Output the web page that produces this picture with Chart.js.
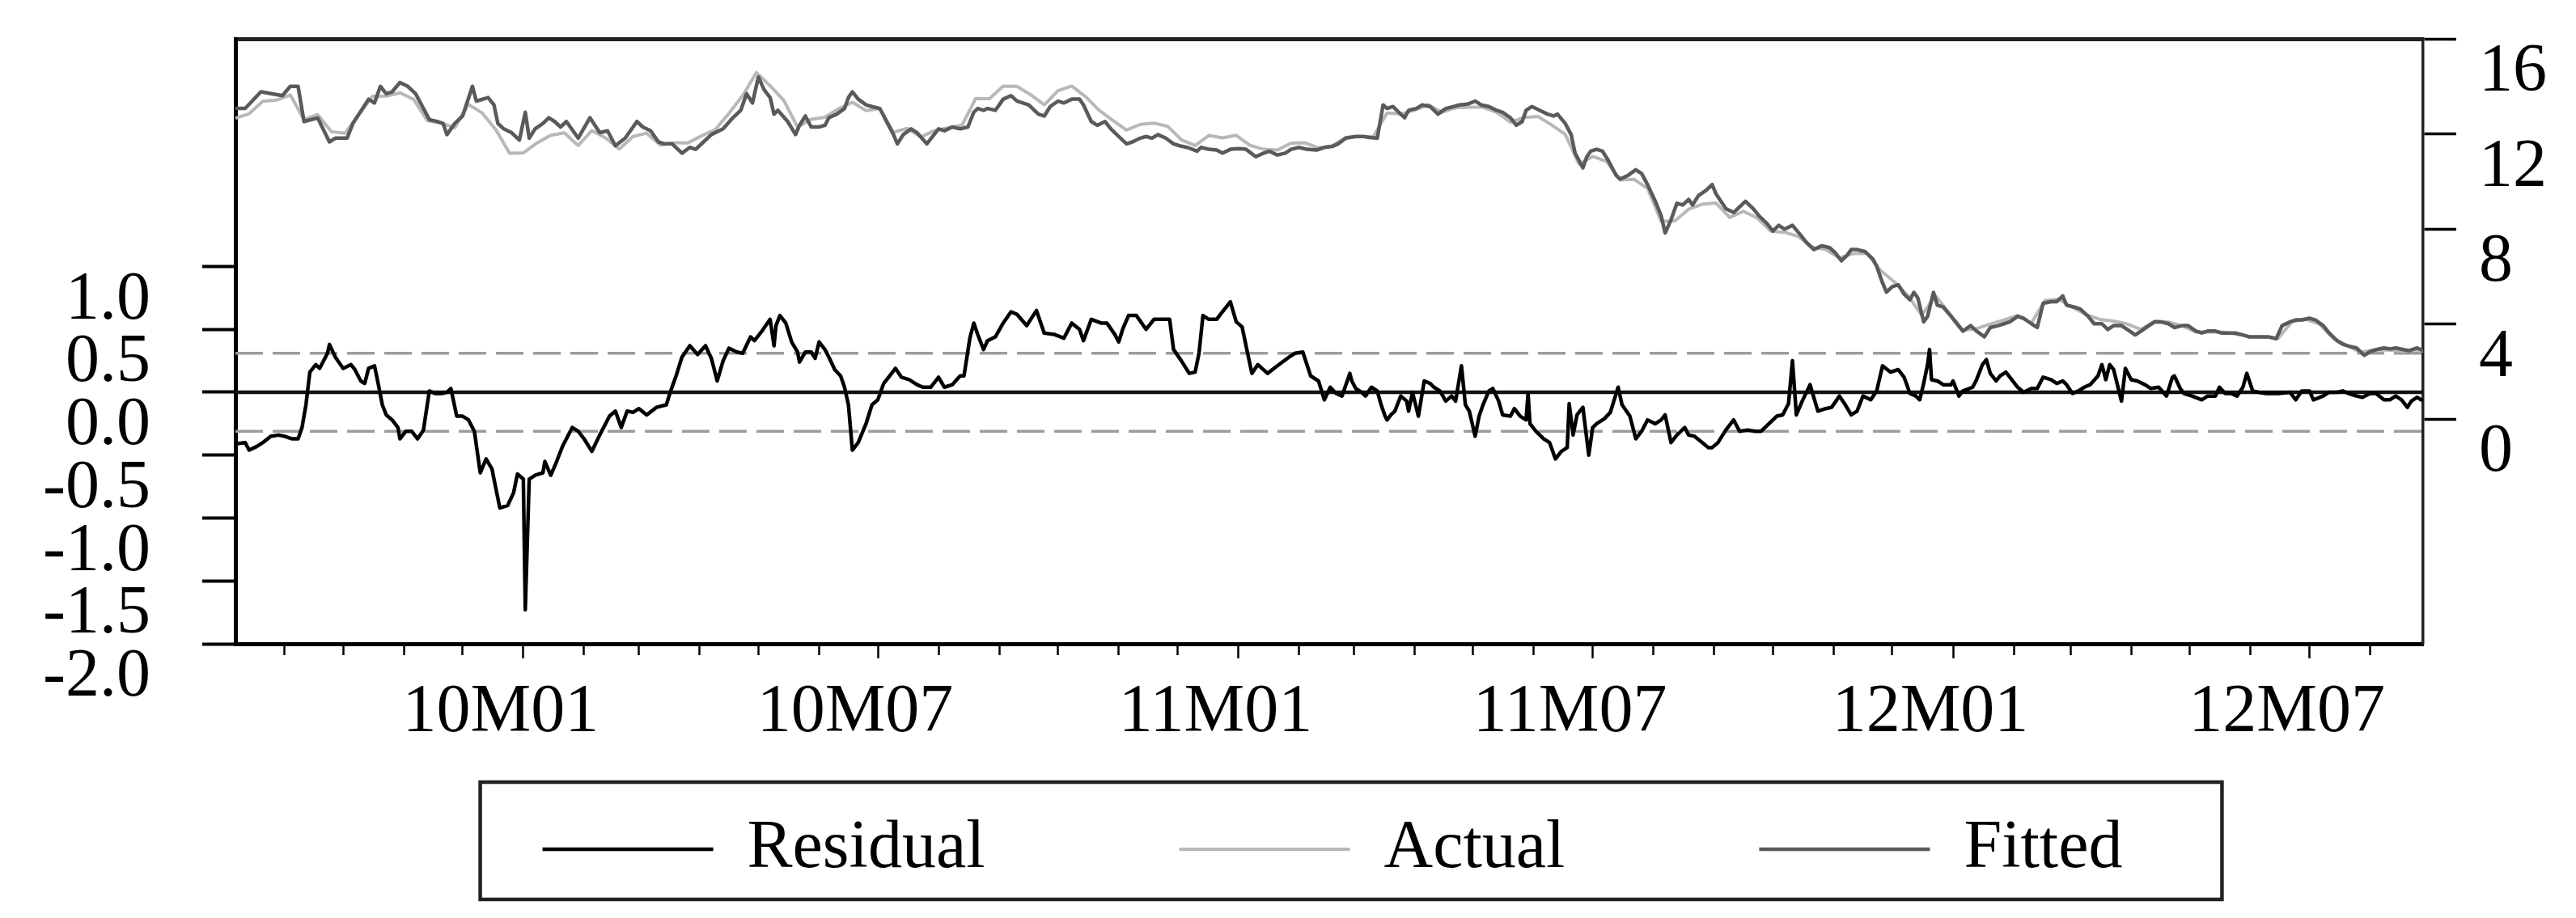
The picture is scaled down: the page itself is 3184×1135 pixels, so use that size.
<!DOCTYPE html>
<html>
<head>
<meta charset="utf-8">
<script src="https://cdn.jsdelivr.net/npm/chart.js@4.4.1/dist/chart.umd.min.js"></script>
<style>
  html, body { margin: 0; padding: 0; background: #fff; }
  canvas { display: block; }
</style>
</head>
<body>
<canvas id="myChart" width="3184" height="1135"></canvas>
<script>
// days are counted from dayZero; residual and fitted as [day, value]
const dayZero = '2010-01-01'
const axisFrom = '2009-08-07'
const axisTo = '2012-08-28'

const residualPoints = [
  [-147, -0.41], [-142, -0.40], [-140, -0.46], [-136, -0.43], [-133, -0.40], [-129, -0.35], [-125, -0.34], [-122, -0.35],
  [-118, -0.37], [-115, -0.37], [-113, -0.28], [-111, -0.10], [-109, 0.16], [-106, 0.22], [-104, 0.19], [-100, 0.31],
  [-99, 0.38], [-96, 0.28], [-92, 0.19], [-88, 0.22], [-86, 0.18], [-83, 0.09], [-81, 0.07], [-79, 0.19],
  [-76, 0.21], [-74, 0.06], [-72, -0.10], [-70, -0.18], [-67, -0.22], [-64, -0.28], [-63, -0.37], [-60, -0.31],
  [-57, -0.31], [-54, -0.37], [-51, -0.30], [-48, 0.01], [-45, -0.01], [-42, -0.01], [-39, 0.00], [-37, 0.03],
  [-34, -0.19], [-31, -0.19], [-28, -0.22], [-25, -0.31], [-22, -0.64], [-19, -0.53], [-16, -0.61], [-15, -0.69],
  [-12, -0.92], [-8, -0.90], [-5, -0.80], [-3, -0.65], [0, -0.69], [1, -1.73], [3, -0.69], [6, -0.66],
  [10, -0.64], [11, -0.55], [14, -0.66], [17, -0.55], [20, -0.43], [22, -0.37], [25, -0.28], [28, -0.31],
  [31, -0.37], [35, -0.47], [39, -0.34], [44, -0.19], [47, -0.15], [50, -0.28], [53, -0.15], [56, -0.16],
  [59, -0.13], [63, -0.18], [68, -0.12], [73, -0.10], [75, 0.00], [78, 0.13], [81, 0.28], [85, 0.37],
  [89, 0.30], [93, 0.37], [96, 0.27], [99, 0.09], [102, 0.25], [105, 0.35], [109, 0.32], [112, 0.31],
  [116, 0.44], [118, 0.41], [122, 0.49], [126, 0.58], [128, 0.37], [129, 0.53], [131, 0.61], [134, 0.55],
  [137, 0.40], [140, 0.32], [141, 0.24], [144, 0.32], [147, 0.32], [149, 0.27], [151, 0.40], [154, 0.34],
  [156, 0.28], [159, 0.18], [162, 0.13], [164, 0.04], [166, -0.10], [168, -0.46], [171, -0.40], [175, -0.25],
  [178, -0.10], [181, -0.06], [184, 0.07], [187, 0.13], [190, 0.19], [193, 0.12], [197, 0.10], [201, 0.06],
  [204, 0.04], [208, 0.04], [212, 0.12], [215, 0.04], [219, 0.06], [223, 0.13], [225, 0.13], [228, 0.43],
  [230, 0.55], [232, 0.46], [235, 0.34], [237, 0.41], [241, 0.44], [245, 0.55], [249, 0.64], [252, 0.62],
  [257, 0.53], [262, 0.65], [266, 0.47], [271, 0.46], [276, 0.43], [280, 0.55], [284, 0.50], [286, 0.41],
  [290, 0.58], [295, 0.55], [298, 0.55], [302, 0.46], [304, 0.40], [306, 0.50], [309, 0.61], [313, 0.61],
  [318, 0.50], [322, 0.58], [326, 0.58], [330, 0.58], [332, 0.34], [336, 0.25], [340, 0.15], [343, 0.16],
  [345, 0.31], [347, 0.61], [350, 0.58], [354, 0.58], [357, 0.64], [361, 0.72], [364, 0.56], [367, 0.52],
  [369, 0.37], [372, 0.15], [375, 0.22], [380, 0.15], [385, 0.21], [391, 0.28], [394, 0.31], [398, 0.32],
  [402, 0.13], [406, 0.09], [409, -0.06], [412, 0.04], [415, -0.01], [418, -0.03], [422, 0.15], [423, 0.09],
  [425, 0.03], [428, 0.00], [430, -0.03], [433, 0.04], [436, 0.01], [438, -0.10], [440, -0.19], [441, -0.22],
  [443, -0.18], [445, -0.15], [448, -0.03], [451, -0.07], [452, -0.15], [454, 0.00], [457, -0.19], [460, 0.09],
  [463, 0.07], [465, 0.04], [468, 0.01], [471, -0.07], [474, -0.03], [476, -0.07], [479, 0.21], [481, -0.10],
  [483, -0.15], [486, -0.35], [488, -0.19], [490, -0.10], [493, 0.01], [495, 0.03], [498, -0.07], [500, -0.18],
  [504, -0.19], [506, -0.13], [509, -0.19], [512, -0.22], [513, -0.01], [514, -0.25], [517, -0.31], [521, -0.37],
  [524, -0.40], [527, -0.53], [530, -0.47], [533, -0.44], [534, -0.09], [536, -0.34], [538, -0.18], [541, -0.12],
  [544, -0.50], [546, -0.28], [548, -0.25], [552, -0.21], [555, -0.16], [559, 0.04], [561, -0.10], [565, -0.19],
  [568, -0.37], [571, -0.31], [574, -0.22], [578, -0.25], [581, -0.22], [583, -0.18], [586, -0.40], [589, -0.34],
  [593, -0.28], [595, -0.34], [598, -0.35], [602, -0.40], [605, -0.44], [607, -0.44], [610, -0.40], [614, -0.30],
  [618, -0.22], [621, -0.31], [625, -0.30], [629, -0.31], [632, -0.31], [636, -0.25], [640, -0.19], [643, -0.18],
  [646, -0.09], [648, 0.25], [650, -0.18], [653, -0.07], [657, 0.06], [661, -0.15], [665, -0.13], [668, -0.12],
  [672, -0.03], [675, -0.10], [678, -0.18], [681, -0.15], [684, -0.03], [688, -0.06], [691, 0.01], [694, 0.21],
  [698, 0.16], [702, 0.18], [705, 0.12], [708, -0.01], [711, -0.03], [713, -0.06], [715, 0.07], [717, 0.22],
  [718, 0.34], [719, 0.10], [722, 0.09], [725, 0.06], [729, 0.06], [730, 0.09], [733, -0.03], [735, 0.01],
  [740, 0.04], [742, 0.10], [745, 0.22], [747, 0.26], [749, 0.15], [752, 0.09], [754, 0.13], [757, 0.16],
  [759, 0.12], [763, 0.04], [766, 0.00], [770, 0.03], [773, 0.03], [776, 0.12], [780, 0.10], [783, 0.07],
  [786, 0.09], [788, 0.06], [791, -0.01], [794, 0.01], [797, 0.04], [800, 0.06], [804, 0.13], [806, 0.22],
  [808, 0.10], [810, 0.22], [812, 0.18], [816, -0.07], [818, 0.19], [821, 0.10], [824, 0.09], [828, 0.06],
  [831, 0.03], [835, 0.04], [839, -0.03], [842, 0.12], [843, 0.13], [846, 0.03], [848, -0.01], [852, -0.03],
  [857, -0.06], [860, -0.03], [864, -0.03], [866, 0.04], [869, -0.01], [872, -0.01], [875, -0.03], [878, 0.04],
  [880, 0.15], [883, 0.01], [886, 0.00], [890, -0.01], [893, -0.01], [896, -0.01], [902, 0.00], [905, -0.06],
  [908, 0.01], [912, 0.01], [914, -0.06], [919, -0.03], [922, 0.00], [926, 0.00], [929, 0.01], [932, -0.01],
  [936, -0.03], [939, -0.04], [943, -0.01], [946, -0.01], [950, -0.06], [953, -0.06], [956, -0.03], [959, -0.06],
  [962, -0.12], [964, -0.07], [967, -0.04], [969, -0.06], [973, -0.06]
]

const fittedPoints = [
  [-149, 13.07], [-142, 13.07], [-134, 13.77], [-123, 13.61], [-119, 14.00], [-115, 14.00], [-112, 12.52], [-105, 12.67],
  [-99, 11.66], [-96, 11.82], [-90, 11.82], [-87, 12.44], [-79, 13.46], [-76, 13.30], [-73, 14.00], [-70, 13.69],
  [-67, 13.77], [-63, 14.16], [-59, 14.00], [-55, 13.69], [-51, 13.07], [-48, 12.60], [-44, 12.52], [-41, 12.44],
  [-39, 11.97], [-35, 12.44], [-31, 12.75], [-26, 14.00], [-24, 13.38], [-18, 13.53], [-15, 13.22], [-13, 12.44],
  [-10, 12.21], [-6, 12.05], [-2, 11.74], [1, 12.91], [3, 11.82], [6, 12.21], [10, 12.44], [13, 12.68],
  [16, 12.52], [19, 12.29], [22, 12.52], [28, 11.82], [34, 12.68], [39, 12.05], [43, 12.13], [47, 11.50],
  [52, 11.82], [58, 12.52], [61, 12.29], [65, 12.13], [69, 11.66], [72, 11.58], [76, 11.58], [81, 11.19],
  [85, 11.43], [88, 11.35], [92, 11.66], [96, 11.97], [102, 12.21], [107, 12.68], [111, 12.99], [114, 13.69],
  [117, 13.30], [120, 14.39], [123, 13.85], [126, 13.53], [128, 12.83], [130, 12.99], [135, 12.52], [139, 11.97],
  [141, 12.36], [144, 12.75], [147, 12.29], [151, 12.29], [154, 12.36], [156, 12.68], [160, 12.83], [164, 13.07],
  [166, 13.53], [168, 13.77], [171, 13.46], [175, 13.22], [178, 13.15], [182, 13.07], [186, 12.44], [189, 11.97],
  [191, 11.58], [194, 11.97], [198, 12.21], [201, 12.05], [206, 11.58], [212, 12.21], [215, 12.13], [219, 12.29],
  [223, 12.21], [227, 12.29], [230, 12.91], [232, 13.07], [235, 12.99], [237, 13.07], [241, 12.99], [245, 13.46],
  [249, 13.61], [252, 13.38], [258, 13.22], [263, 12.83], [266, 12.75], [269, 13.15], [273, 13.38], [276, 13.30],
  [280, 13.46], [284, 13.46], [286, 13.22], [290, 12.52], [293, 12.36], [297, 12.52], [300, 12.21], [304, 11.89],
  [308, 11.58], [311, 11.66], [315, 11.82], [318, 11.89], [321, 11.82], [324, 11.97], [328, 11.82], [332, 11.58],
  [335, 11.50], [339, 11.43], [344, 11.27], [346, 11.43], [350, 11.35], [354, 11.32], [357, 11.19], [361, 11.35],
  [365, 11.38], [369, 11.35], [374, 11.04], [378, 11.19], [381, 11.27], [385, 11.11], [389, 11.19], [392, 11.35],
  [396, 11.43], [400, 11.35], [405, 11.32], [409, 11.43], [413, 11.47], [416, 11.58], [420, 11.82], [425, 11.89],
  [429, 11.89], [432, 11.85], [436, 11.82], [439, 13.22], [441, 13.07], [444, 13.15], [447, 12.91], [450, 12.68],
  [452, 12.99], [456, 13.07], [459, 13.22], [463, 13.15], [467, 12.83], [471, 13.07], [475, 13.15], [478, 13.22],
  [482, 13.25], [486, 13.38], [489, 13.22], [493, 13.15], [497, 12.99], [500, 12.91], [504, 12.68], [507, 12.36],
  [510, 12.52], [512, 12.99], [515, 13.15], [519, 12.99], [523, 12.83], [526, 12.75], [528, 12.83], [532, 12.44],
  [535, 11.97], [537, 11.19], [541, 10.57], [543, 11.04], [545, 11.27], [548, 11.35], [551, 11.27], [554, 10.88],
  [558, 10.25], [560, 10.10], [564, 10.25], [568, 10.49], [571, 10.33], [574, 9.87], [578, 9.16], [581, 8.54],
  [583, 7.83], [586, 8.38], [589, 9.08], [592, 9.01], [595, 9.24], [597, 9.01], [600, 9.40], [604, 9.63],
  [607, 9.87], [609, 9.47], [614, 8.85], [618, 8.69], [620, 8.85], [624, 9.16], [628, 8.85], [631, 8.54],
  [635, 8.23], [638, 7.91], [641, 8.15], [644, 7.99], [648, 8.15], [652, 7.76], [655, 7.44], [659, 7.13],
  [663, 7.29], [667, 7.21], [670, 6.98], [673, 6.66], [676, 6.90], [678, 7.13], [681, 7.13], [685, 7.05],
  [689, 6.74], [691, 6.43], [694, 5.73], [696, 5.34], [699, 5.57], [702, 5.65], [705, 5.26], [708, 5.02],
  [710, 5.33], [712, 5.10], [715, 4.09], [717, 4.32], [720, 5.33], [722, 4.79], [725, 4.71], [729, 4.32],
  [732, 4.01], [735, 3.70], [739, 3.93], [742, 3.70], [746, 3.46], [749, 3.85], [753, 3.93], [756, 4.01],
  [759, 4.09], [763, 4.32], [766, 4.24], [770, 4.01], [773, 3.85], [776, 4.87], [780, 4.94], [783, 4.94],
  [786, 5.18], [788, 4.79], [792, 4.71], [795, 4.63], [799, 4.32], [802, 4.01], [806, 4.01], [809, 3.77],
  [812, 3.93], [816, 3.93], [819, 3.77], [823, 3.54], [826, 3.70], [830, 3.93], [833, 4.09], [836, 4.09],
  [840, 4.01], [843, 3.85], [847, 3.93], [850, 3.93], [854, 3.70], [857, 3.62], [860, 3.70], [864, 3.70],
  [867, 3.62], [871, 3.62], [874, 3.62], [878, 3.54], [881, 3.46], [884, 3.46], [888, 3.46], [891, 3.46],
  [895, 3.38], [898, 3.93], [902, 4.09], [905, 4.17], [908, 4.17], [912, 4.24], [915, 4.17], [919, 3.93],
  [922, 3.62], [926, 3.30], [929, 3.15], [932, 3.07], [936, 2.99], [940, 2.68], [943, 2.84], [946, 2.92],
  [950, 2.99], [953, 2.95], [956, 2.99], [960, 2.92], [963, 2.88], [967, 2.99], [970, 2.88], [973, 2.88]
]

// actual: one value a week, first one on day actualFrom
const actualFrom = -147
const actual = [
  12.66, 12.85, 13.37, 13.42, 13.64, 12.60, 12.81, 12.09, 12.03, 12.81,
  13.58, 13.59, 13.73, 13.45, 12.55, 12.46, 12.26, 13.24, 12.88, 12.17,
  11.18, 11.20, 11.62, 11.94, 12.04, 11.51, 12.14, 11.83, 11.36, 11.89,
  12.03, 11.52, 11.63, 11.62, 11.92, 12.18, 12.87, 13.61, 14.58, 14.02,
  13.41, 12.29, 12.61, 12.70, 13.06, 13.33, 12.98, 13.06, 12.07, 12.23,
  11.87, 12.14, 12.26, 12.37, 13.49, 13.48, 14.01, 14.00, 13.65, 13.22,
  13.82, 14.01, 13.57, 12.99, 12.57, 12.16, 12.40, 12.45, 12.32, 11.75,
  11.51, 11.93, 11.83, 11.94, 11.52, 11.35, 11.32, 11.61, 11.63, 11.41,
  11.49, 11.86, 11.88, 11.89, 12.88, 12.84, 12.99, 13.23, 12.91, 13.10,
  13.12, 13.12, 12.91, 12.49, 12.69, 12.73, 12.38, 11.98, 10.73, 11.05,
  10.85, 10.06, 10.09, 9.71, 8.32, 8.34, 8.83, 9.04, 9.09, 8.48,
  8.74, 8.46, 7.91, 7.86, 7.68, 7.24, 7.13, 6.78, 6.96, 6.97,
  6.25, 5.77, 5.20, 4.36, 5.19, 4.46, 3.74, 3.80, 4.00, 4.17,
  4.36, 4.04, 4.99, 5.04, 4.70, 4.39, 4.19, 4.12, 4.00, 3.77,
  4.12, 4.08, 3.92, 3.66, 3.66, 3.65, 3.57, 3.47, 3.45, 3.40,
  4.09, 4.20, 4.00, 3.41, 3.10, 2.80, 2.91, 2.90, 2.86, 2.91,
  2.82
]

const residTicks = [-2.0, -1.5, -1.0, -0.5, 0.0, 0.5, 1.0]
const levelTicks = [0, 4, 8, 12, 16]
const bandLevel = 0.31

const fontSize = 84
Chart.defaults.font.family = "'Liberation Serif', 'Times New Roman', serif"
Chart.defaults.font.size = fontSize
Chart.defaults.color = '#000'

const toDay = (s) => {
    const [y, m, d] = s.split('-').map(Number)
    return Date.UTC(y, m - 1, d) / 864e5
}

const base = toDay(dayZero)
const xMin = toDay(axisFrom)
const xMax = toDay(axisTo)

const fromPairs = (pairs) => pairs.map(p => ({ x: base + p[0], y: p[1] }))
const fromWeekly = (vals, first) => vals.map((v, i) => ({ x: base + first + 7 * i, y: v }))

// month ticks, labels only on January and July
let monthTicks = []
for (let y = 2009; y <= 2012; y++) {
    for (let m = 0; m < 12; m++) {
        const d = Date.UTC(y, m, 1) / 864e5
        if (d <= xMin || d >= xMax) continue
        const major = (m === 0 || m === 6)
        const label = major ? String(y % 100).padStart(2, '0') + 'M' + String(m + 1).padStart(2, '0') : ''
        monthTicks.push({ value: d, label: label, major: major })
    }
}

const flat = (v) => [{ x: xMin, y: v }, { x: xMax, y: v }]

// no extra room for half-labels at the ends of the axes
const noEdgePadding = (scale) => {
    scale.paddingTop = 0
    scale.paddingBottom = 0
    scale.paddingLeft = 0
    scale.paddingRight = 0
}

const legendCenter = 254   // below the plot bottom
const legendSpot = {
    id: 'legendSpot',
    afterLayout(chart) {
        // wide item spacing without a tall legend box, centred under the plot
        const lg = chart.legend
        lg.left = 110
        lg.right = chart.width
        lg.width = lg.right - lg.left
        lg.top = chart.chartArea.bottom + legendCenter - lg.options.labels.padding - fontSize / 2
        lg.bottom = chart.height
        lg.height = lg.bottom - lg.top
    },
    afterDraw(chart) {
        const hb = chart.legend.legendHitBoxes
        if (!hb || !hb.length) return
        const cy = chart.chartArea.bottom + legendCenter
        const left = hb[0].left - 77
        const last = hb[hb.length - 1]
        const right = last.left + last.width + 123
        const ctx = chart.ctx
        ctx.save()
        ctx.strokeStyle = '#222'
        ctx.lineWidth = 4.5
        ctx.strokeRect(left, cy - 83, right - left, 145)
        ctx.restore()
    }
}

new Chart('myChart', {
    type: 'line',
    data: {
        datasets: [
            { label: 'Residual', data: fromPairs(residualPoints), yAxisID: 'y',
              borderColor: '#000', backgroundColor: '#000', borderWidth: 4.5, order: 0 },
            { label: 'Actual', data: fromWeekly(actual, actualFrom), yAxisID: 'y2',
              borderColor: '#b8b8b8', backgroundColor: '#b8b8b8', borderWidth: 4, order: 2 },
            { label: 'Fitted', data: fromPairs(fittedPoints), yAxisID: 'y2',
              borderColor: '#5a5a5a', backgroundColor: '#5a5a5a', borderWidth: 4.5, order: 1 },
            { label: 'zero', data: flat(0), yAxisID: 'y',
              borderColor: '#111', borderWidth: 4.5, order: 3 },
            { label: 'upper', data: flat(bandLevel), yAxisID: 'y',
              borderColor: '#9c9c9c', borderWidth: 3.5, borderDash: [34, 12], order: 4 },
            { label: 'lower', data: flat(-bandLevel), yAxisID: 'y',
              borderColor: '#9c9c9c', borderWidth: 3.5, borderDash: [34, 12], order: 4 }
        ]
    },
    options: {
        responsive: false,
        animation: false,
        devicePixelRatio: 1,
        elements: { point: { radius: 0 }, line: { tension: 0, borderJoinStyle: 'round' } },
        layout: { padding: { left: 0, right: 0, top: 48, bottom: 0 } },
        plugins: {
            tooltip: { enabled: false },
            legend: {
                position: 'bottom',
                maxHeight: 100,
                labels: {
                    usePointStyle: true,
                    pointStyle: 'line',
                    pointStyleWidth: 211,
                    padding: 240,
                    color: '#000',
                    font: { size: fontSize },
                    filter: (item) => item.datasetIndex < 3,
                    sort: (a, b) => a.datasetIndex - b.datasetIndex
                }
            }
        },
        scales: {
            x: {
                type: 'linear',
                position: 'bottom',
                min: xMin,
                max: xMax,
                afterBuildTicks: (scale) => { scale.ticks = monthTicks.map(t => ({ value: t.value })) },
                afterFit: (scale) => { scale.height = 239; noEdgePadding(scale) },
                grid: {
                    drawOnChartArea: false,
                    tickLength: 18,
                    tickWidth: 2.5,
                    tickColor: '#000',
                    tickBorderDash: (ctx) => (monthTicks[ctx.index] && monthTicks[ctx.index].major) ? [] : [11, 40]
                },
                border: { display: true, width: 5, color: '#000' },
                ticks: {
                    autoSkip: false,
                    maxRotation: 0,
                    minRotation: 0,
                    padding: 18,
                    labelOffset: -28,
                    callback: (value, index) => monthTicks[index] ? monthTicks[index].label : ''
                }
            },
            x2: {
                type: 'linear',
                position: 'top',
                min: xMin,
                max: xMax,
                afterFit: (scale) => { scale.height = 0; noEdgePadding(scale) },
                grid: { drawOnChartArea: false, drawTicks: false },
                border: { display: true, width: 5, color: '#222' },
                ticks: { display: false }
            },
            y: {
                type: 'linear',
                position: 'left',
                min: -2,
                max: 2.81,
                bounds: 'data',
                afterBuildTicks: (scale) => { scale.ticks = residTicks.map(v => ({ value: v })) },
                afterFit: (scale) => { scale.width = 291; noEdgePadding(scale) },
                grid: { drawOnChartArea: false, tickLength: 41, tickWidth: 4, tickColor: '#000' },
                border: { display: true, width: 5, color: '#000' },
                ticks: {
                    autoSkip: false,
                    padding: 64,
                    labelOffset: 42,
                    callback: (value) => Number(value).toFixed(1)
                }
            },
            y2: {
                type: 'linear',
                position: 'right',
                min: -9.46,
                max: 16,
                bounds: 'data',
                afterBuildTicks: (scale) => { scale.ticks = levelTicks.map(v => ({ value: v })) },
                afterFit: (scale) => { scale.width = 189; noEdgePadding(scale) },
                grid: { drawOnChartArea: false, tickLength: 41, tickWidth: 3.5, tickColor: '#000' },
                border: { display: true, width: 3.5, color: '#222' },
                ticks: {
                    autoSkip: false,
                    padding: 28,
                    labelOffset: 42,
                    callback: (value) => String(value)
                }
            }
        }
    },
    plugins: [legendSpot]
})
</script>
</body>
</html>
